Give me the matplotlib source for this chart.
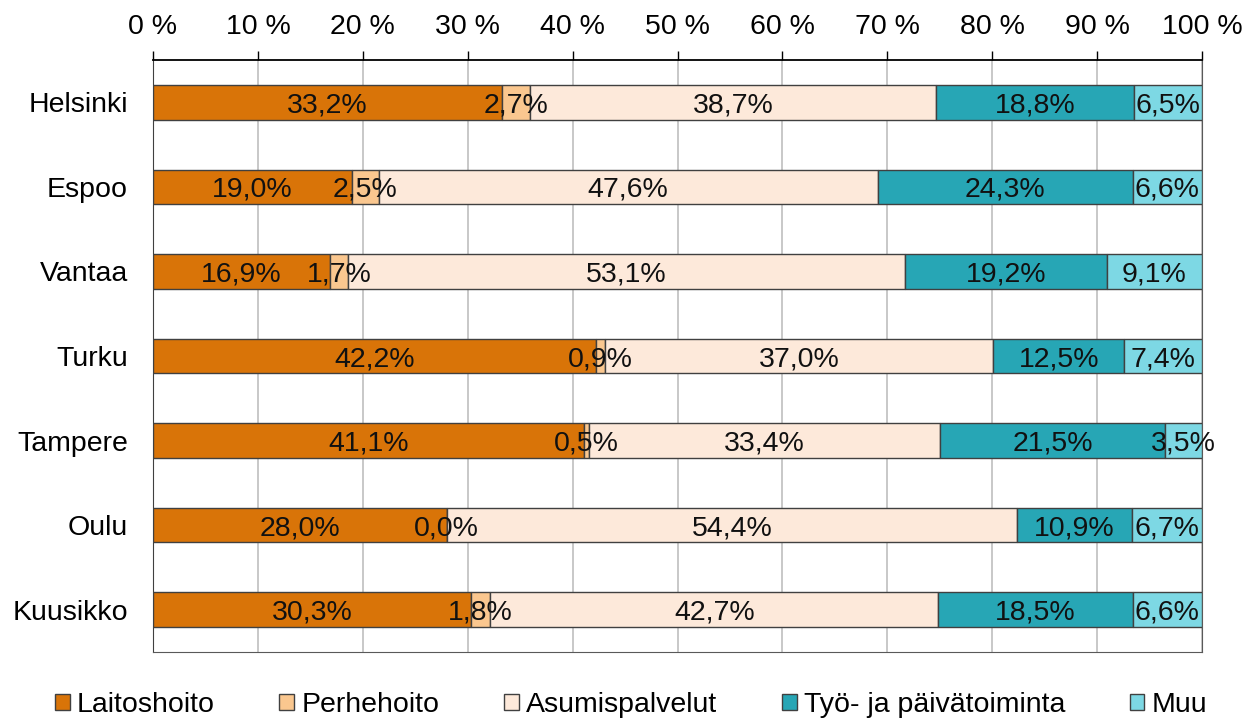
import numpy as np
import matplotlib
matplotlib.use("Agg")
import matplotlib.pyplot as plt

plt.rcParams['font.family'] = ['Liberation Sans', 'DejaVu Sans']

cities = ["Helsinki", "Espoo", "Vantaa", "Turku", "Tampere", "Oulu", "Kuusikko"]
series = ["Laitoshoito", "Perhehoito", "Asumispalvelut", "Työ- ja päivätoiminta", "Muu"]
colors = ["#D97408", "#FAC78F", "#FDE9DA", "#27A6B5", "#7DD8E4"]

laitoshoito = [33.2, 19.0, 16.9, 42.2, 41.1, 28.0, 30.3]
perhehoito = [2.7, 2.5, 1.7, 0.9, 0.5, 0.0, 1.8]
asumispalvelut = [38.7, 47.6, 53.1, 37.0, 33.4, 54.4, 42.7]
tyo = [18.8, 24.3, 19.2, 12.5, 21.5, 10.9, 18.5]
muu = [6.5, 6.6, 9.1, 7.4, 3.5, 6.7, 6.6]

data = np.array([laitoshoito, perhehoito, asumispalvelut, tyo, muu])
# 100 % stacked: normalise each row
shares = data / data.sum(axis=0) * 100

fig = plt.figure(figsize=(12.52, 7.22), dpi=100)
ax = fig.add_axes([153 / 1252, 1 - 652 / 722, (1202 - 153) / 1252, (652 - 60) / 722])

y = np.arange(len(cities))
left = np.zeros(len(cities))
for i, name in enumerate(series):
    bars = ax.barh(y, shares[i], left=left, height=0.41, color=colors[i],
                   edgecolor="#404040", linewidth=1.0, label=name, zorder=3)
    for j, b in enumerate(bars):
        cx = left[j] + shares[i][j] / 2
        txt = f"{data[i][j]:.1f}".replace(".", ",") + "%"
        ax.text(cx, y[j], txt, ha="center", va="center_baseline", fontsize=20.5,
                color="#111111", zorder=5)
    left += shares[i]

ax.set_xlim(0, 100)
ax.set_ylim(len(cities) - 0.5, -0.5)
ax.set_yticks(y)
ax.set_yticklabels(cities, fontsize=20.5)
ax.set_xticks(np.arange(0, 101, 10))
ax.set_xticklabels([f"{v} %" for v in range(0, 101, 10)], fontsize=20.5)
ax.xaxis.tick_top()
ax.tick_params(axis="x", direction="out", length=6.5, width=1, pad=8, color="black")
ax.tick_params(axis="y", length=0, pad=18)
ax.grid(axis="x", color="#BFBFBF", linewidth=1.2, zorder=0)
ax.set_axisbelow(True)

ax.spines["top"].set_color("black")
ax.spines["top"].set_linewidth(1.3)
ax.spines["left"].set_color("#404040")
ax.spines["bottom"].set_color("#595959")
ax.spines["right"].set_color("#595959")

fig.legend(loc="center", bbox_to_anchor=(631 / 1252, 1 - 705 / 722), ncol=5,
           frameon=False, fontsize=20.5, handlelength=0.52, handleheight=0.52,
           handletextpad=0.25, columnspacing=2.27, borderaxespad=0)

fig.savefig("out.png", dpi=100)
